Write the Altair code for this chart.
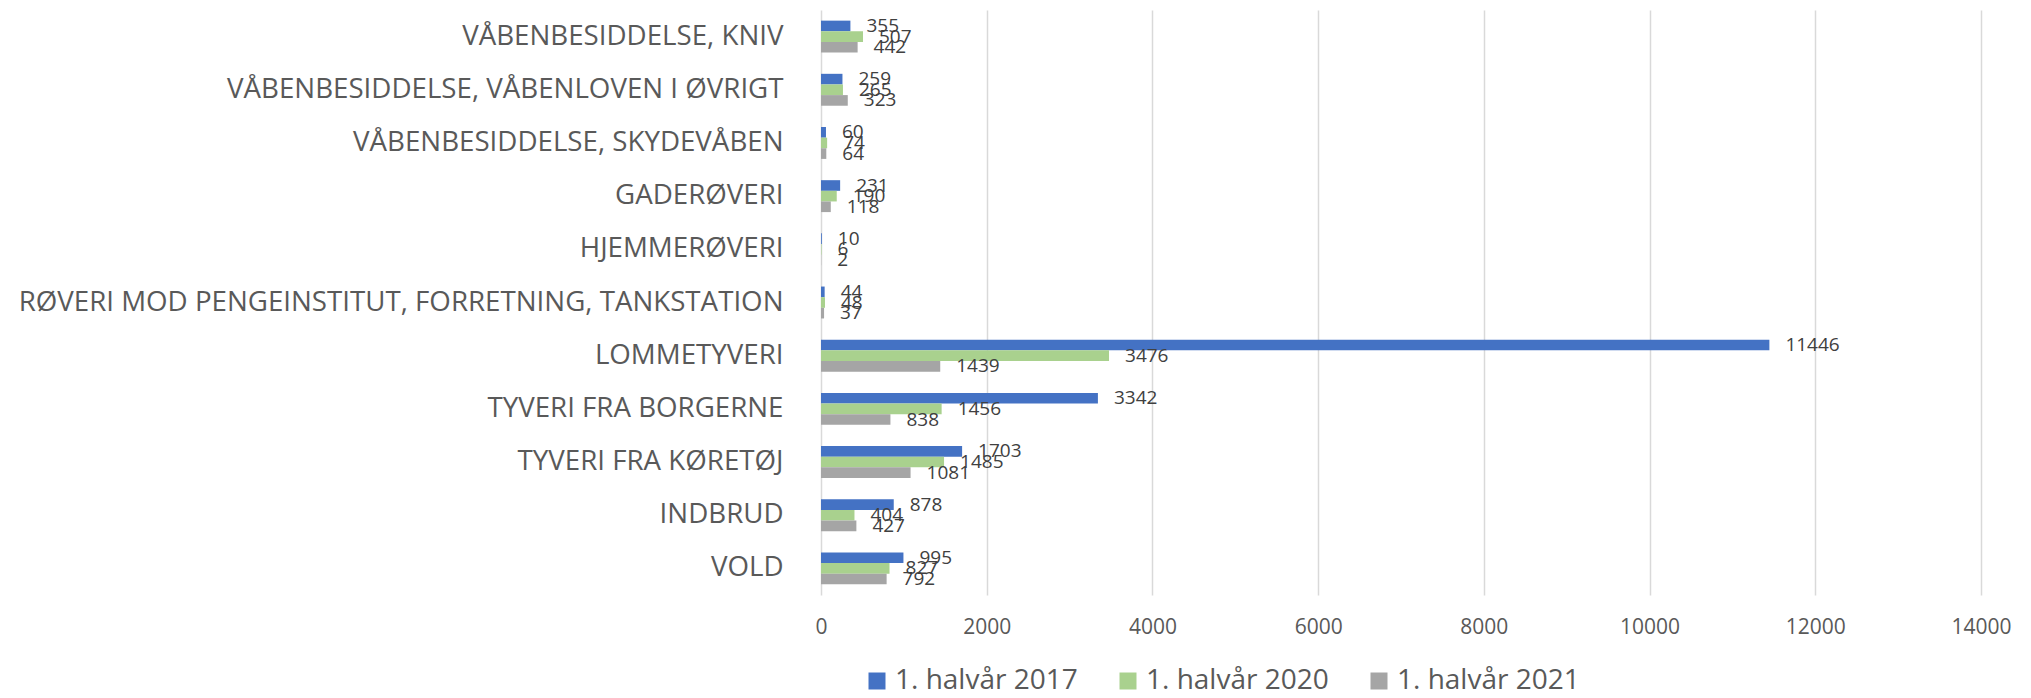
import altair as alt
import pandas as pd

categories = [
    "VÅBENBESIDDELSE, KNIV",
    "VÅBENBESIDDELSE, VÅBENLOVEN I ØVRIGT",
    "VÅBENBESIDDELSE, SKYDEVÅBEN",
    "GADERØVERI",
    "HJEMMERØVERI",
    "RØVERI MOD PENGEINSTITUT, FORRETNING, TANKSTATION",
    "LOMMETYVERI",
    "TYVERI FRA BORGERNE",
    "TYVERI FRA KØRETØJ",
    "INDBRUD",
    "VOLD",
]
series = ["1. halvår 2017", "1. halvår 2020", "1. halvår 2021"]
v2017 = [355, 259, 60, 231, 10, 44, 11446, 3342, 1703, 878, 995]
v2020 = [507, 265, 74, 190, 6, 48, 3476, 1456, 1485, 404, 827]
v2021 = [442, 323, 64, 118, 2, 37, 1439, 838, 1081, 427, 792]
colors = ["#4472C4", "#A9D18E", "#A5A5A5"]
x_ticks = [0, 2000, 4000, 6000, 8000, 10000, 12000, 14000]

rows = []
for s, vals in zip(series, [v2017, v2020, v2021]):
    for c, v in zip(categories, vals):
        rows.append({"category": c, "series": s, "value": v})
df = pd.DataFrame(rows)

FONT = "Open Sans"

y_enc = alt.Y(
    "category:N",
    sort=categories,
    scale=alt.Scale(paddingInner=0.4, paddingOuter=0.2),
    axis=alt.Axis(
        title=None,
        ticks=False,
        tickSize=0,
        domain=False,
        labelPadding=38,
        labelFont=FONT,
        labelFontSize=27.7,
        labelColor="#595959",
        labelLimit=2000,
    ),
)
yoff = alt.YOffset("series:N", sort=series, scale=alt.Scale(paddingInner=0, paddingOuter=0))
x_enc = alt.X(
    "value:Q",
    scale=alt.Scale(domain=[0, 14000], nice=False),
    axis=alt.Axis(
        title=None,
        values=x_ticks,
        format="d",
        domain=False,
        ticks=False,
        tickSize=0,
        labelFlush=False,
        labelPadding=21,
        labelFont=FONT,
        labelFontSize=21,
        labelColor="#595959",
        gridColor="#D9D9D9",
        gridWidth=1.5,
    ),
)

bars = alt.Chart(df).mark_bar().encode(
    x=x_enc,
    y=y_enc,
    yOffset=yoff,
    color=alt.Color(
        "series:N",
        sort=series,
        scale=alt.Scale(domain=series, range=colors),
        legend=alt.Legend(
            title=None,
            orient="none",
            legendX=42,
            legendY=657,
            direction="horizontal",
            padding=0,
            symbolType="square",
            symbolSize=289,
            symbolStrokeWidth=0,
            labelFont=FONT,
            labelFontSize=28,
            labelColor="#595959",
            labelOffset=4,
            columnPadding=36,
            labelLimit=500,
        ),
    ),
)

labels = alt.Chart(df).mark_text(
    align="left", baseline="middle", dx=16, font=FONT, fontSize=19, color="#404040"
).encode(
    x=alt.X("value:Q"),
    y=alt.Y("category:N", sort=categories),
    yOffset=alt.YOffset("series:N", sort=series),
    text=alt.Text("value:Q"),
)

chart = (
    alt.layer(bars, labels)
    .properties(
        width=1160,
        height=585,
        autosize=alt.AutoSizeParams(type="none"),
        padding={"left": 821, "top": 10, "right": 50, "bottom": 103},
        background="white",
    )
    .configure_view(stroke=None)
)

chart.save("out.html", embed_options={"renderer": "svg", "actions": False})
